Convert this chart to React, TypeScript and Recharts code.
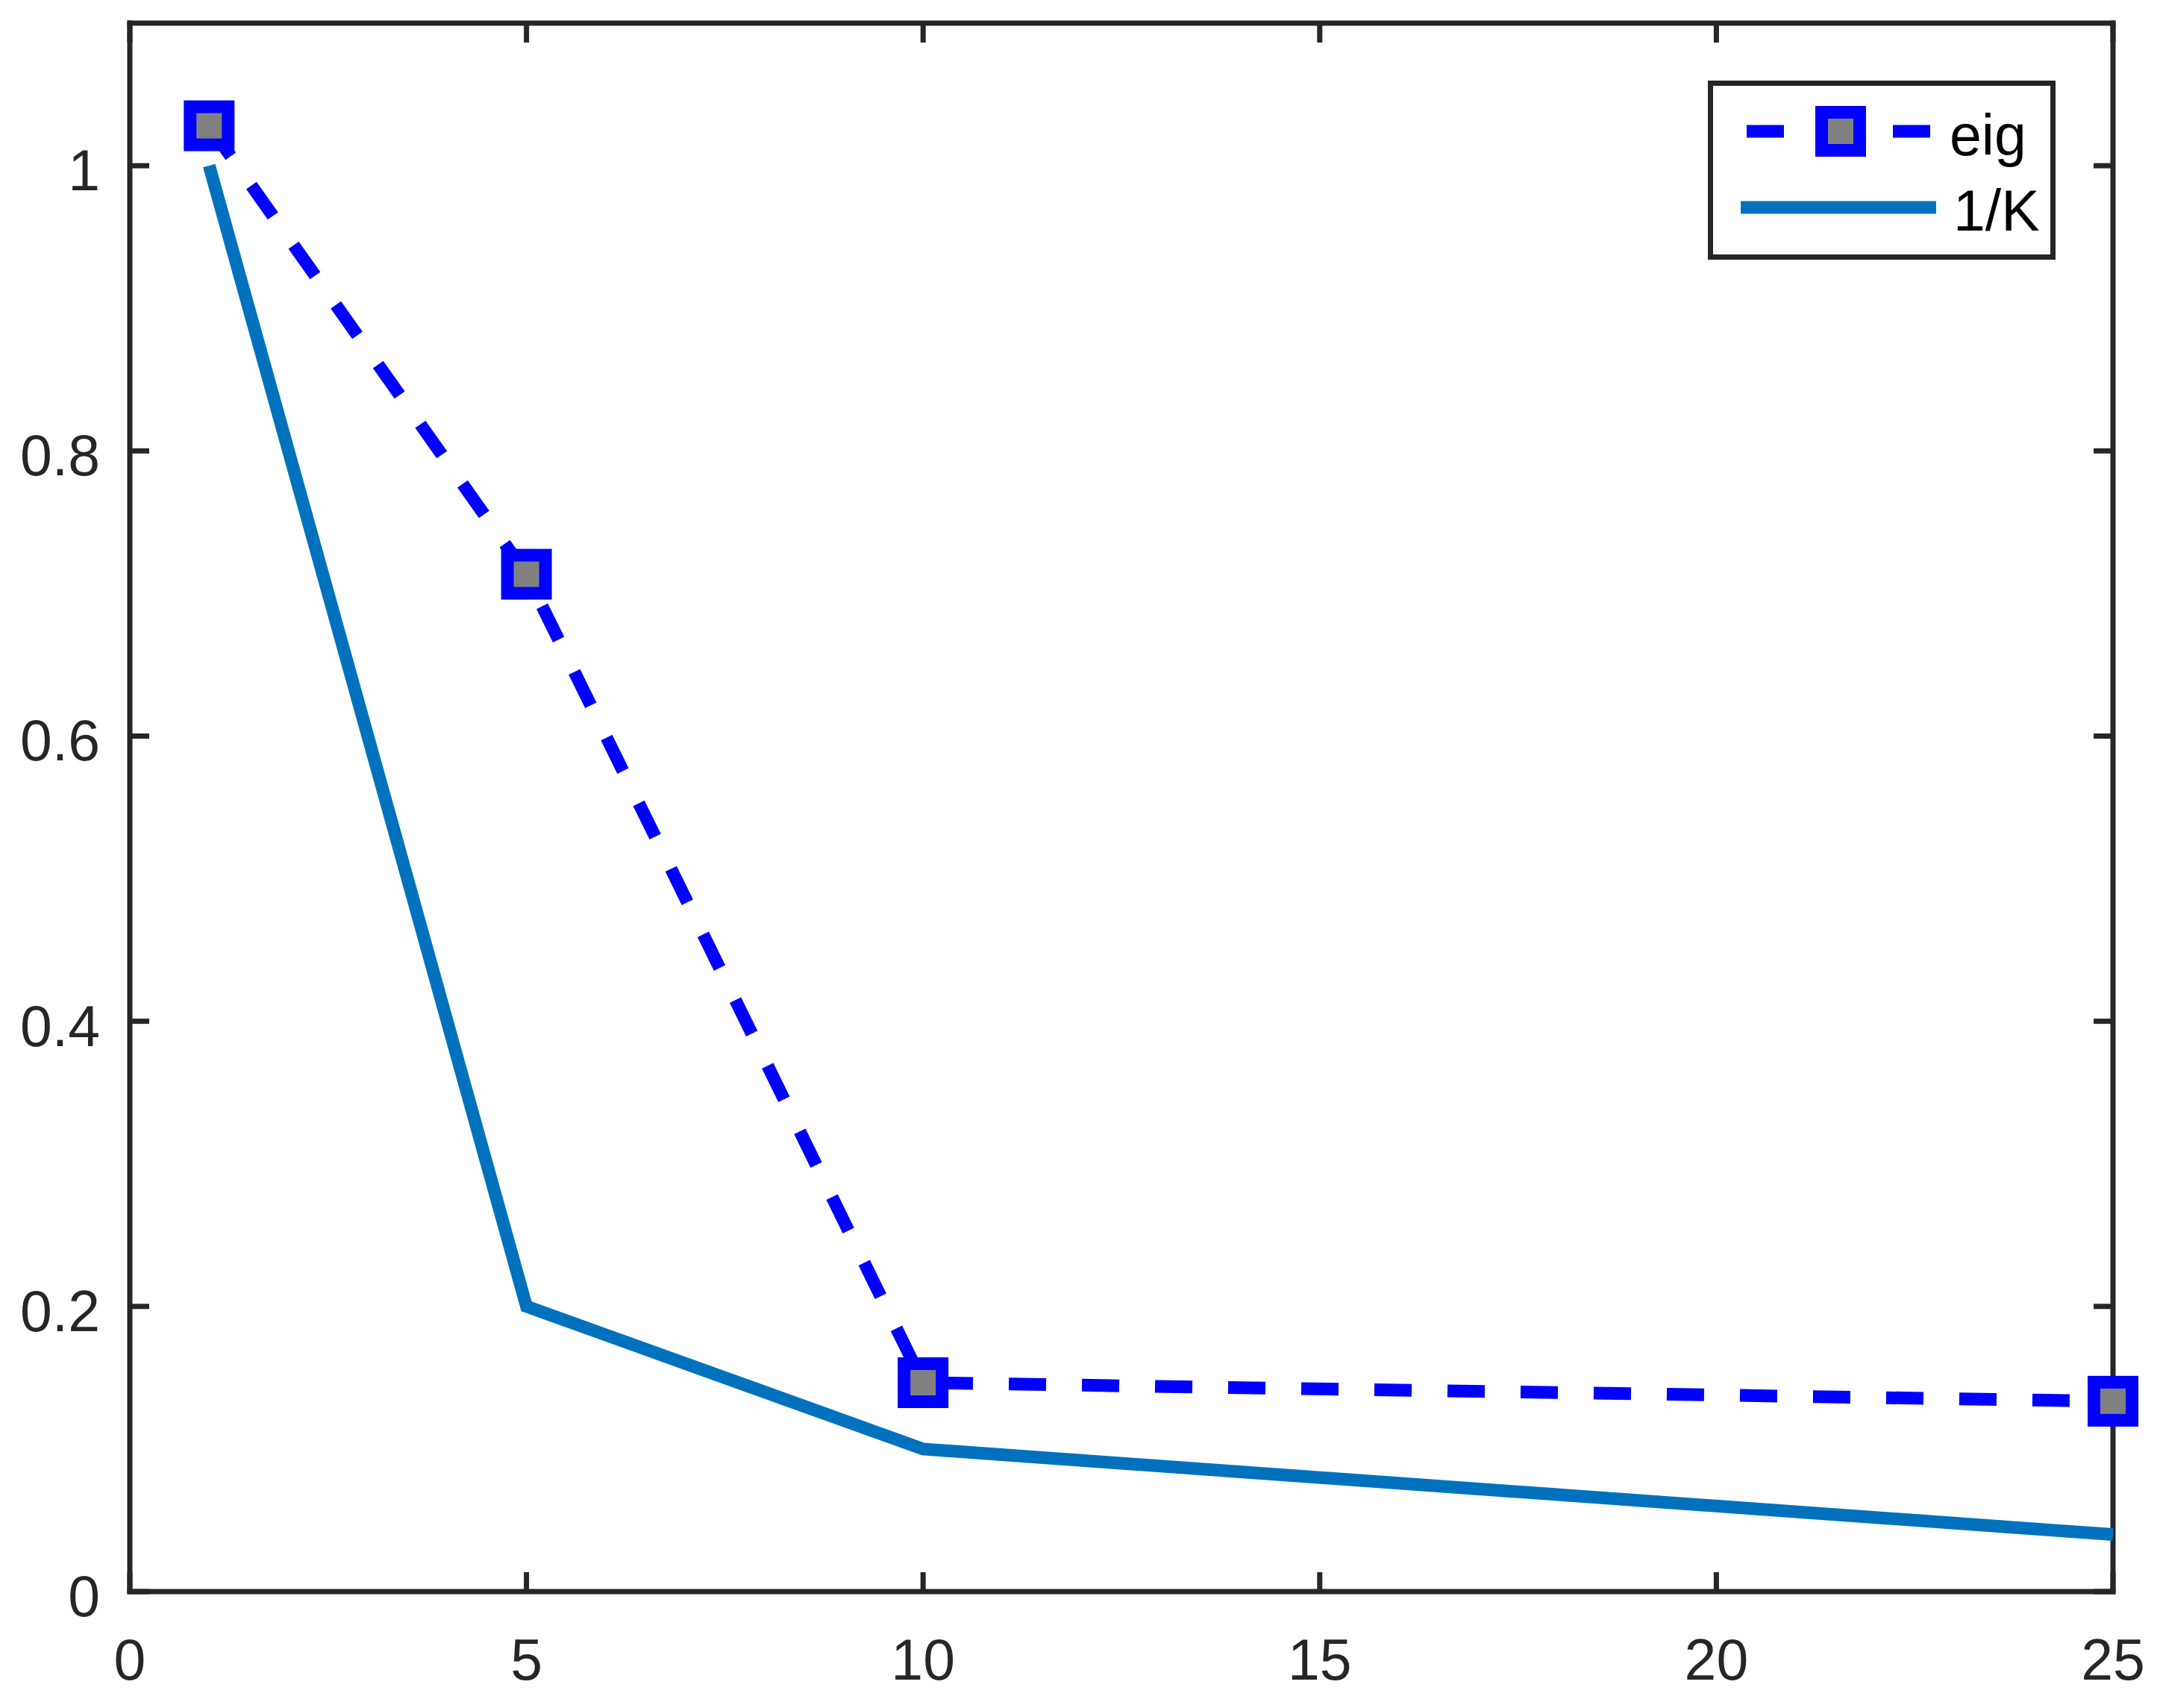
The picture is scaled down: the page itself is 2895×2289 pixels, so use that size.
import { Legend, Line, LineChart, ReferenceLine, XAxis, YAxis } from 'recharts'

const kValues = [1, 5, 10, 25]
const eigValues = [1.028, 0.7135, 0.1465, 0.1335]
const invKValues = [1, 0.2, 0.1, 0.04]

const xTicks = [0, 5, 10, 15, 20, 25]
const yTicks = [0, 0.2, 0.4, 0.6, 0.8, 1]

const seriesNames = { eig: 'eig', invK: '1/K' }

const data = kValues.map((k, i) => ({ k, eig: eigValues[i], invK: invKValues[i] }))

const WIDTH = 2895
const HEIGHT = 2289
// axes get 1px each (a 0-sized axis is not drawn), so margins are 1px short
const MARGIN = { top: 31, right: 63, bottom: 155, left: 173 }
const PLOT_TOP = MARGIN.top
const PLOT_RIGHT = WIDTH - MARGIN.right

const AXIS = '#262626'
const EIG_COLOR = '#0000ff'
const INVK_COLOR = '#0072bd'
const FONT = '"Liberation Sans", Arial, Helvetica, sans-serif'
const FONT_SIZE = 77
const TICK_LEN = 26
const LINE_W = 17

const XTick = (props: any) => {
  const { x, y, payload } = props
  return (
    <g>
      <line x1={x} y1={y} x2={x} y2={y - TICK_LEN} stroke={AXIS} strokeWidth={7} />
      <line x1={x} y1={PLOT_TOP} x2={x} y2={PLOT_TOP + TICK_LEN} stroke={AXIS} strokeWidth={7} />
      <text x={x} y={y + 118} textAnchor="middle" fill={AXIS} fontFamily={FONT} fontSize={FONT_SIZE}>
        {String(payload.value)}
      </text>
    </g>
  )
}

const YTick = (props: any) => {
  const { x, y, payload } = props
  return (
    <g>
      <line x1={x} y1={y} x2={x + TICK_LEN} y2={y} stroke={AXIS} strokeWidth={7} />
      <line x1={PLOT_RIGHT} y1={y} x2={PLOT_RIGHT - TICK_LEN} y2={y} stroke={AXIS} strokeWidth={7} />
      <text x={x - 40} y={y + 33} textAnchor="end" fill={AXIS} fontFamily={FONT} fontSize={FONT_SIZE}>
        {String(payload.value)}
      </text>
    </g>
  )
}

const SquareDot = (props: any) => {
  const { cx, cy, index } = props
  if (cx == null || cy == null) return <g key={index} />
  return (
    <rect
      key={index}
      x={cx - 25.5}
      y={cy - 25.5}
      width={51}
      height={51}
      fill="#808080"
      stroke={EIG_COLOR}
      strokeWidth={LINE_W}
    />
  )
}

const LegendBox = () => (
  <svg width={466} height={240} style={{ display: 'block' }}>
    <rect x={3.5} y={3.5} width={459} height={233} fill="#fff" stroke={AXIS} strokeWidth={7} />
    <line x1={52} y1={68} x2={298} y2={68} stroke={EIG_COLOR} strokeWidth={LINE_W} strokeDasharray="50 48" />
    <rect x={152.5} y={42.5} width={51} height={51} fill="#808080" stroke={EIG_COLOR} strokeWidth={LINE_W} />
    <text x={324} y={100} fill="#000" fontFamily={FONT} fontSize={FONT_SIZE}>
      {seriesNames.eig}
    </text>
    <line x1={44} y1={170} x2={306} y2={170} stroke={INVK_COLOR} strokeWidth={LINE_W} />
    <text x={329} y={201} fill="#000" fontFamily={FONT} fontSize={FONT_SIZE}>
      {seriesNames.invK}
    </text>
  </svg>
)

export default function App() {
  return (
    <div style={{ position: 'absolute', left: 0, top: 0, background: '#fff' }}>
      <LineChart width={WIDTH} height={HEIGHT} data={data} margin={MARGIN}>
        <XAxis
          dataKey="k"
          type="number"
          domain={[0, 25]}
          ticks={xTicks}
          height={1}
          tickSize={0}
          tickMargin={0}
          tickLine={false}
          axisLine={{ stroke: AXIS, strokeWidth: 7, strokeLinecap: 'square' }}
          tick={<XTick />}
          interval={0}
        />
        <YAxis
          type="number"
          domain={[0, 1.1]}
          ticks={yTicks}
          width={1}
          tickSize={0}
          tickMargin={0}
          tickLine={false}
          axisLine={{ stroke: AXIS, strokeWidth: 7, strokeLinecap: 'square' }}
          tick={<YTick />}
          interval={0}
        />
        <ReferenceLine x={25} stroke={AXIS} strokeWidth={7} strokeLinecap="square" />
        <ReferenceLine y={1.1} stroke={AXIS} strokeWidth={7} strokeLinecap="square" />
        <Line
          type="linear"
          dataKey="eig"
          name={seriesNames.eig}
          stroke={EIG_COLOR}
          strokeWidth={LINE_W}
          strokeDasharray="50 48"
          dot={SquareDot}
          activeDot={false}
          isAnimationActive={false}
        />
        <Line
          type="linear"
          dataKey="invK"
          name={seriesNames.invK}
          stroke={INVK_COLOR}
          strokeWidth={LINE_W}
          dot={false}
          activeDot={false}
          isAnimationActive={false}
        />
        <Legend
          layout="horizontal"
          verticalAlign="middle"
          align="center"
          content={() => <LegendBox />}
          wrapperStyle={{ left: 2289, top: 108, width: 466, height: 240 }}
        />
      </LineChart>
    </div>
  )
}
